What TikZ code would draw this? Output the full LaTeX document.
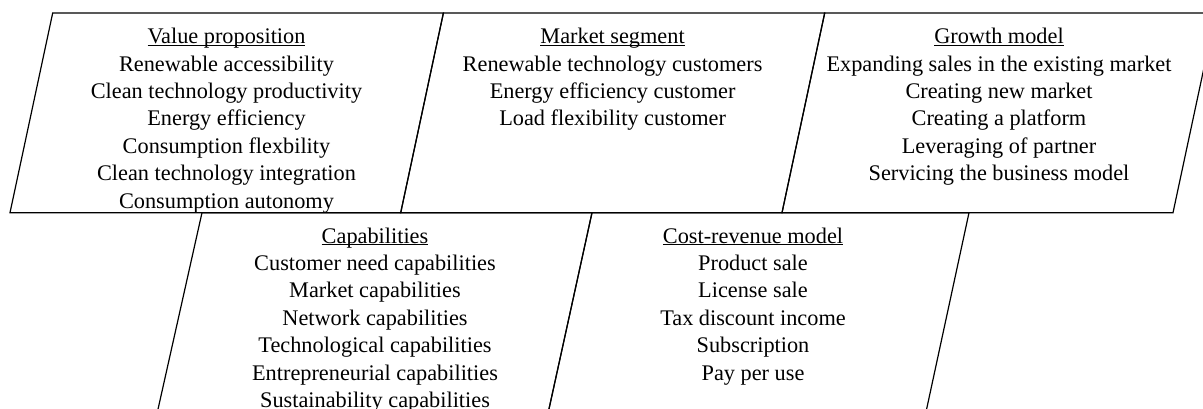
\documentclass[tikz,border=0pt]{standalone}
\usepackage{fontspec}
\setmainfont{Liberation Serif}
\newcommand\hdul[1]{\setbox0\hbox{#1}\rlap{\rule[-2.3pt]{\wd0}{1.1pt}}\box0}
\begin{document}
\begin{tikzpicture}[x=1pt,y=1pt,
  cell/.style={draw=black, line width=1.2pt, line join=miter},
  celltext/.style={anchor=north, inner sep=0pt, align=center, font=\fontsize{22.3}{27.4}\selectfont}]
\useasboundingbox (0,0) rectangle (1203,409);
\clip (0,0) rectangle (1203,409);
% top row
\draw[cell] (10,196.3) -- (52.7,396) -- (443.4,396) -- (400.7,196.3) -- cycle;
\draw[cell] (400.7,196.3) -- (443.4,396) -- (824.7,396) -- (782,196.3) -- cycle;
\draw[cell] (782,196.3) -- (824.7,396) -- (1215.7,396) -- (1173,196.3) -- cycle;
% bottom row
\draw[cell] (154.7,-15) -- (202,196.3) -- (592,196.3) -- (545.7,-15) -- cycle;
\draw[cell] (545.7,-15) -- (592,196.3) -- (969,196.3) -- (923.4,-15) -- cycle;
% texts
\node[celltext] (vp) at (226.5,381) {\hdul{Value proposition}\\Renewable accessibility\\Clean technology productivity\\Energy efficiency\\Consumption flexbility\\Clean technology integration\\Consumption autonomy};
\node[celltext] (ms) at (612.6,381) {\hdul{Market segment}\\Renewable technology customers\\Energy efficiency customer\\Load flexibility customer};
\node[celltext] (gm) at (999,381) {\hdul{Growth model}\\Expanding sales in the existing market\\Creating new market\\Creating a platform\\Leveraging of partner\\Servicing the business model};
\node[celltext] (cap) at (375,181.5) {\hdul{Capabilities}\\Customer need capabilities\\Market capabilities\\Network capabilities\\Technological capabilities\\Entrepreneurial capabilities\\Sustainability capabilities};
\node[celltext] (cr) at (753,181.5) {\hdul{Cost-revenue model}\\Product sale\\License sale\\Tax discount income\\Subscription\\Pay per use};
\end{tikzpicture}
\end{document}
